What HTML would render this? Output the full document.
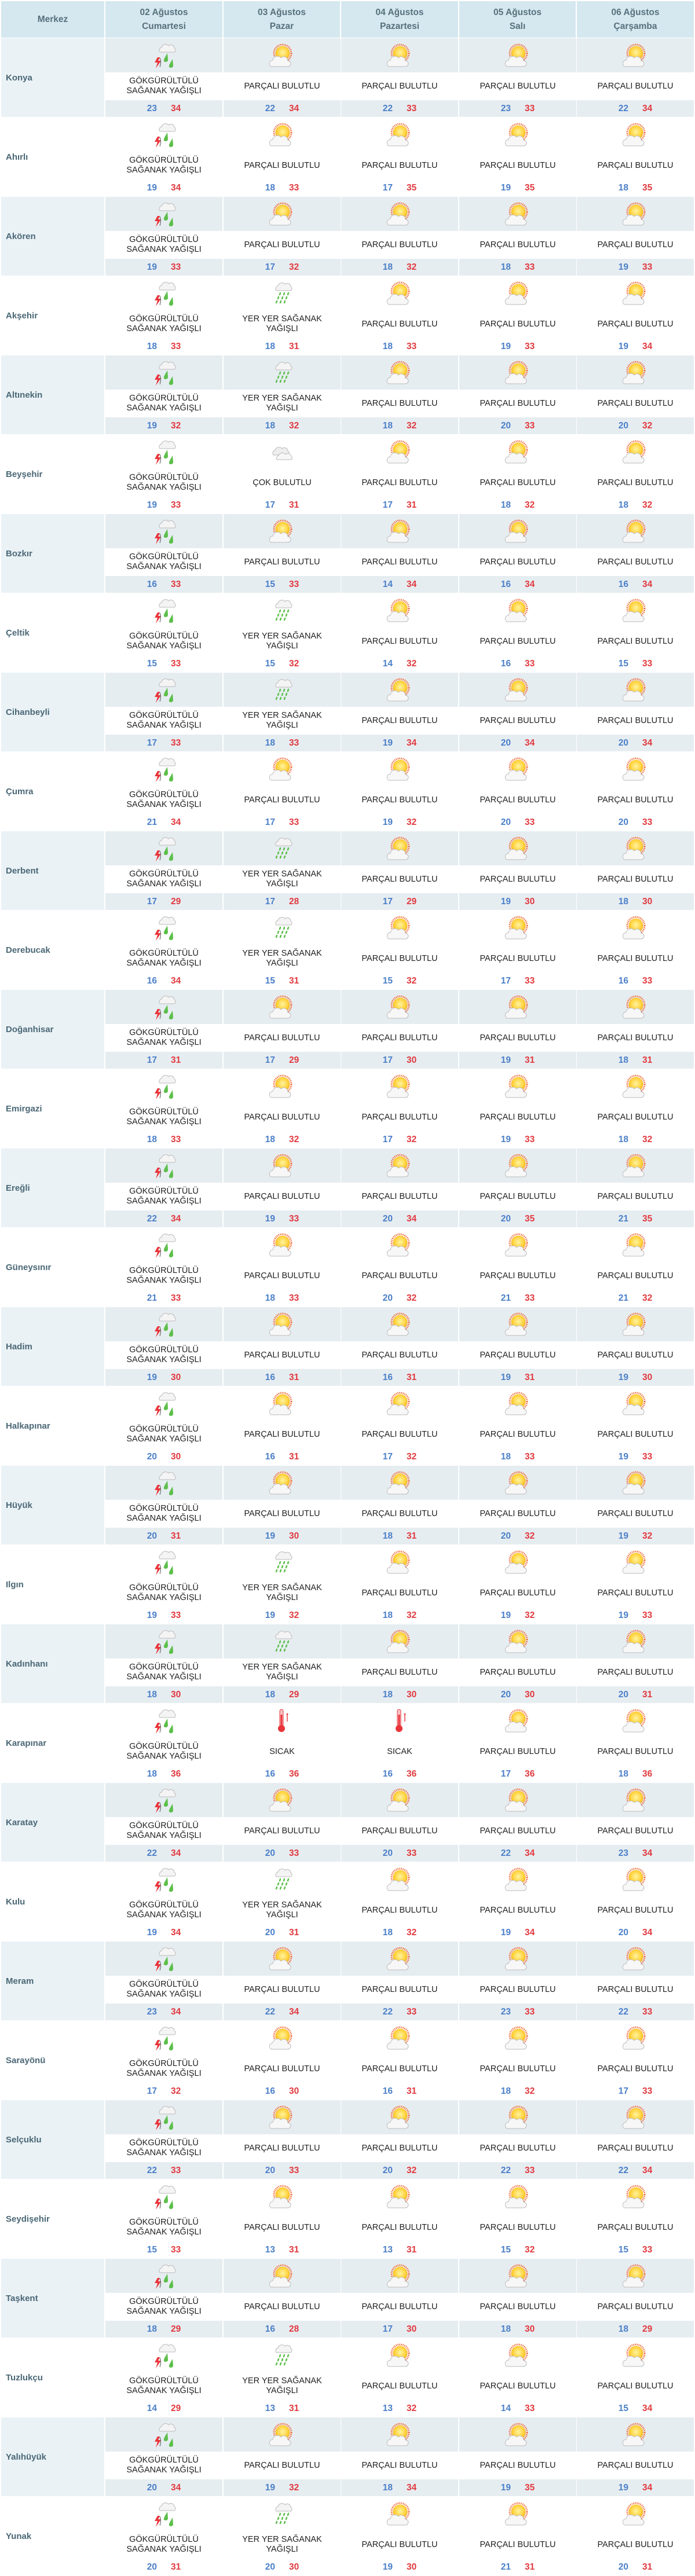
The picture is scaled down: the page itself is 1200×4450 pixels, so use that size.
<!DOCTYPE html>
<html><head><meta charset="utf-8">
<style>
*{margin:0;padding:0;box-sizing:border-box}
body{width:1200px;height:4449px;background:#fff;font-family:"Liberation Sans",sans-serif;overflow:hidden;position:relative}
.h{position:absolute;top:2px;height:63px;background:#d5e8ef;color:#56707c;font-weight:bold;font-size:15.5px;line-height:24px;text-align:center;display:flex;align-items:center;justify-content:center}
.r{position:absolute;left:0;width:1200px;height:137px}
.n{position:absolute;left:2px;top:0;width:178px;height:136px;display:flex;align-items:center;padding-left:8px;color:#4b6876;font-weight:bold;font-size:15px}
.c{position:absolute;top:0;width:202px;height:136px}
.c:nth-child(2){left:182px}.c:nth-child(3){left:386px}.c:nth-child(4){left:589px}.c:nth-child(5){left:793px}.c:nth-child(6){left:996px}
.i{height:59px;display:flex;align-items:center;justify-content:center}
.i svg{width:46px;height:46px}
.d{height:48px;display:flex;align-items:center;justify-content:center;text-align:center;color:#222;font-size:14.5px;line-height:17px}
.t{height:29px;text-align:center;font-weight:bold;font-size:15.5px;line-height:29px}
.t b{color:#4a7fc8;margin-right:24px}.t i{font-style:normal;color:#e0393e}
.g .n{background:#eaf2f6}.g .i,.g .t{background:#e6edf1}
</style></head><body>
<svg width="0" height="0" style="position:absolute">
<defs>
<radialGradient id="sg" cx="50%" cy="45%" r="55%"><stop offset="0" stop-color="#fff3a0"/><stop offset="0.7" stop-color="#ffd23a"/><stop offset="1" stop-color="#f5a623"/></radialGradient>
<symbol id="cl" viewBox="0 0 46 46"><path d="M8 38a6 6 0 0 1 3-11a8 8 0 0 1 14-4a7 7 0 0 1 12 5a5 5 0 0 1 0 10z" fill="#f7f7f7" stroke="#bbb" stroke-width="1"/></symbol>
<symbol id="P" viewBox="0 0 46 46"><circle cx="24" cy="19" r="15" fill="none" stroke="#f26b3a" stroke-width="3" stroke-dasharray="1.5 1.5"/><circle cx="24" cy="19" r="12.5" fill="url(#sg)"/><use href="#cl" x="-4" y="4" width="46" height="46"/></symbol>
<symbol id="G" viewBox="0 0 46 46"><path d="M16 17a5 5 0 0 1 3-8a7 7 0 0 1 12-3a6 6 0 0 1 10 4a4 4 0 0 1 0 7z" fill="#f4f4f4" stroke="#bbb"/><path d="M12 26l-5 9h5l-3 10l9-13h-5l3-6z" fill="#e8343a"/><path d="M16 27q3 7 0 16" stroke="#555" fill="none"/><path d="M29 19q-5 8-6 11q-1 4 3 4q4 0 4-4z" fill="#5cbf4a"/><path d="M38 29q-5 8-6 11q-1 4 3 4q4 0 4-4z" fill="#5cbf4a"/></symbol>
<symbol id="Y" viewBox="0 0 46 46"><path d="M13 18a5 5 0 0 1 3-8a7 7 0 0 1 12-3a6 6 0 0 1 10 4a4 4 0 0 1 0 7z" fill="#f4f4f4" stroke="#bbb"/><g stroke="#5cbf4a" stroke-width="2.5" stroke-linecap="round"><path d="M20 22l-1 3M27 22l-1 3M34 22l-1 3M17 29l-1 3M24 29l-1 3M31 29l-1 3M14 36l-1 3M21 36l-1 3M28 36l-1 3"/></g></symbol>
<symbol id="C" viewBox="0 0 46 46"><path d="M8 28a5 5 0 0 1 3-8a7 7 0 0 1 12-3a6 6 0 0 1 10 4a4 4 0 0 1 0 7z" fill="#eee" stroke="#bbb"/><path d="M14 36a5 5 0 0 1 3-7a7 7 0 0 1 12-2a6 6 0 0 1 10 3a4 4 0 0 1 0 6z" fill="#f7f7f7" stroke="#bbb"/></symbol>
<symbol id="S" viewBox="0 0 46 46"><rect x="19" y="3" width="6" height="30" rx="3" fill="#f6c3c6" stroke="#e8343a"/><rect x="20.5" y="12" width="3" height="22" fill="#e8343a"/><circle cx="22" cy="36" r="6" fill="#e8343a"/><path d="M30 12l2-3l2 3h-1.3v12h-1.4v-12z" fill="#e8343a"/></symbol>
</defs></svg>
<div class="h" style="left:2px;width:178px">Merkez</div>
<div class="h" style="left:182px;width:202px">02 Ağustos<br>Cumartesi</div>
<div class="h" style="left:386px;width:201px">03 Ağustos<br>Pazar</div>
<div class="h" style="left:589px;width:202px">04 Ağustos<br>Pazartesi</div>
<div class="h" style="left:793px;width:201px">05 Ağustos<br>Salı</div>
<div class="h" style="left:996px;width:202px">06 Ağustos<br>Çarşamba</div>

<div class="r g" style="top:66px"><div class="n">Konya</div><div class="c"><div class="i"><svg><use href="#G"/></svg></div><div class="d">GÖKGÜRÜLTÜLÜ<br>SAĞANAK YAĞIŞLI</div><div class="t"><b>23</b><i>34</i></div></div><div class="c"><div class="i"><svg><use href="#P"/></svg></div><div class="d">PARÇALI BULUTLU</div><div class="t"><b>22</b><i>34</i></div></div><div class="c"><div class="i"><svg><use href="#P"/></svg></div><div class="d">PARÇALI BULUTLU</div><div class="t"><b>22</b><i>33</i></div></div><div class="c"><div class="i"><svg><use href="#P"/></svg></div><div class="d">PARÇALI BULUTLU</div><div class="t"><b>23</b><i>33</i></div></div><div class="c"><div class="i"><svg><use href="#P"/></svg></div><div class="d">PARÇALI BULUTLU</div><div class="t"><b>22</b><i>34</i></div></div></div>
<div class="r" style="top:203px"><div class="n">Ahırlı</div><div class="c"><div class="i"><svg><use href="#G"/></svg></div><div class="d">GÖKGÜRÜLTÜLÜ<br>SAĞANAK YAĞIŞLI</div><div class="t"><b>19</b><i>34</i></div></div><div class="c"><div class="i"><svg><use href="#P"/></svg></div><div class="d">PARÇALI BULUTLU</div><div class="t"><b>18</b><i>33</i></div></div><div class="c"><div class="i"><svg><use href="#P"/></svg></div><div class="d">PARÇALI BULUTLU</div><div class="t"><b>17</b><i>35</i></div></div><div class="c"><div class="i"><svg><use href="#P"/></svg></div><div class="d">PARÇALI BULUTLU</div><div class="t"><b>19</b><i>35</i></div></div><div class="c"><div class="i"><svg><use href="#P"/></svg></div><div class="d">PARÇALI BULUTLU</div><div class="t"><b>18</b><i>35</i></div></div></div>
<div class="r g" style="top:340px"><div class="n">Akören</div><div class="c"><div class="i"><svg><use href="#G"/></svg></div><div class="d">GÖKGÜRÜLTÜLÜ<br>SAĞANAK YAĞIŞLI</div><div class="t"><b>19</b><i>33</i></div></div><div class="c"><div class="i"><svg><use href="#P"/></svg></div><div class="d">PARÇALI BULUTLU</div><div class="t"><b>17</b><i>32</i></div></div><div class="c"><div class="i"><svg><use href="#P"/></svg></div><div class="d">PARÇALI BULUTLU</div><div class="t"><b>18</b><i>32</i></div></div><div class="c"><div class="i"><svg><use href="#P"/></svg></div><div class="d">PARÇALI BULUTLU</div><div class="t"><b>18</b><i>33</i></div></div><div class="c"><div class="i"><svg><use href="#P"/></svg></div><div class="d">PARÇALI BULUTLU</div><div class="t"><b>19</b><i>33</i></div></div></div>
<div class="r" style="top:477px"><div class="n">Akşehir</div><div class="c"><div class="i"><svg><use href="#G"/></svg></div><div class="d">GÖKGÜRÜLTÜLÜ<br>SAĞANAK YAĞIŞLI</div><div class="t"><b>18</b><i>33</i></div></div><div class="c"><div class="i"><svg><use href="#Y"/></svg></div><div class="d">YER YER SAĞANAK<br>YAĞIŞLI</div><div class="t"><b>18</b><i>31</i></div></div><div class="c"><div class="i"><svg><use href="#P"/></svg></div><div class="d">PARÇALI BULUTLU</div><div class="t"><b>18</b><i>33</i></div></div><div class="c"><div class="i"><svg><use href="#P"/></svg></div><div class="d">PARÇALI BULUTLU</div><div class="t"><b>19</b><i>33</i></div></div><div class="c"><div class="i"><svg><use href="#P"/></svg></div><div class="d">PARÇALI BULUTLU</div><div class="t"><b>19</b><i>34</i></div></div></div>
<div class="r g" style="top:614px"><div class="n">Altınekin</div><div class="c"><div class="i"><svg><use href="#G"/></svg></div><div class="d">GÖKGÜRÜLTÜLÜ<br>SAĞANAK YAĞIŞLI</div><div class="t"><b>19</b><i>32</i></div></div><div class="c"><div class="i"><svg><use href="#Y"/></svg></div><div class="d">YER YER SAĞANAK<br>YAĞIŞLI</div><div class="t"><b>18</b><i>32</i></div></div><div class="c"><div class="i"><svg><use href="#P"/></svg></div><div class="d">PARÇALI BULUTLU</div><div class="t"><b>18</b><i>32</i></div></div><div class="c"><div class="i"><svg><use href="#P"/></svg></div><div class="d">PARÇALI BULUTLU</div><div class="t"><b>20</b><i>33</i></div></div><div class="c"><div class="i"><svg><use href="#P"/></svg></div><div class="d">PARÇALI BULUTLU</div><div class="t"><b>20</b><i>32</i></div></div></div>
<div class="r" style="top:751px"><div class="n">Beyşehir</div><div class="c"><div class="i"><svg><use href="#G"/></svg></div><div class="d">GÖKGÜRÜLTÜLÜ<br>SAĞANAK YAĞIŞLI</div><div class="t"><b>19</b><i>33</i></div></div><div class="c"><div class="i"><svg><use href="#C"/></svg></div><div class="d">ÇOK BULUTLU</div><div class="t"><b>17</b><i>31</i></div></div><div class="c"><div class="i"><svg><use href="#P"/></svg></div><div class="d">PARÇALI BULUTLU</div><div class="t"><b>17</b><i>31</i></div></div><div class="c"><div class="i"><svg><use href="#P"/></svg></div><div class="d">PARÇALI BULUTLU</div><div class="t"><b>18</b><i>32</i></div></div><div class="c"><div class="i"><svg><use href="#P"/></svg></div><div class="d">PARÇALI BULUTLU</div><div class="t"><b>18</b><i>32</i></div></div></div>
<div class="r g" style="top:888px"><div class="n">Bozkır</div><div class="c"><div class="i"><svg><use href="#G"/></svg></div><div class="d">GÖKGÜRÜLTÜLÜ<br>SAĞANAK YAĞIŞLI</div><div class="t"><b>16</b><i>33</i></div></div><div class="c"><div class="i"><svg><use href="#P"/></svg></div><div class="d">PARÇALI BULUTLU</div><div class="t"><b>15</b><i>33</i></div></div><div class="c"><div class="i"><svg><use href="#P"/></svg></div><div class="d">PARÇALI BULUTLU</div><div class="t"><b>14</b><i>34</i></div></div><div class="c"><div class="i"><svg><use href="#P"/></svg></div><div class="d">PARÇALI BULUTLU</div><div class="t"><b>16</b><i>34</i></div></div><div class="c"><div class="i"><svg><use href="#P"/></svg></div><div class="d">PARÇALI BULUTLU</div><div class="t"><b>16</b><i>34</i></div></div></div>
<div class="r" style="top:1025px"><div class="n">Çeltik</div><div class="c"><div class="i"><svg><use href="#G"/></svg></div><div class="d">GÖKGÜRÜLTÜLÜ<br>SAĞANAK YAĞIŞLI</div><div class="t"><b>15</b><i>33</i></div></div><div class="c"><div class="i"><svg><use href="#Y"/></svg></div><div class="d">YER YER SAĞANAK<br>YAĞIŞLI</div><div class="t"><b>15</b><i>32</i></div></div><div class="c"><div class="i"><svg><use href="#P"/></svg></div><div class="d">PARÇALI BULUTLU</div><div class="t"><b>14</b><i>32</i></div></div><div class="c"><div class="i"><svg><use href="#P"/></svg></div><div class="d">PARÇALI BULUTLU</div><div class="t"><b>16</b><i>33</i></div></div><div class="c"><div class="i"><svg><use href="#P"/></svg></div><div class="d">PARÇALI BULUTLU</div><div class="t"><b>15</b><i>33</i></div></div></div>
<div class="r g" style="top:1162px"><div class="n">Cihanbeyli</div><div class="c"><div class="i"><svg><use href="#G"/></svg></div><div class="d">GÖKGÜRÜLTÜLÜ<br>SAĞANAK YAĞIŞLI</div><div class="t"><b>17</b><i>33</i></div></div><div class="c"><div class="i"><svg><use href="#Y"/></svg></div><div class="d">YER YER SAĞANAK<br>YAĞIŞLI</div><div class="t"><b>18</b><i>33</i></div></div><div class="c"><div class="i"><svg><use href="#P"/></svg></div><div class="d">PARÇALI BULUTLU</div><div class="t"><b>19</b><i>34</i></div></div><div class="c"><div class="i"><svg><use href="#P"/></svg></div><div class="d">PARÇALI BULUTLU</div><div class="t"><b>20</b><i>34</i></div></div><div class="c"><div class="i"><svg><use href="#P"/></svg></div><div class="d">PARÇALI BULUTLU</div><div class="t"><b>20</b><i>34</i></div></div></div>
<div class="r" style="top:1299px"><div class="n">Çumra</div><div class="c"><div class="i"><svg><use href="#G"/></svg></div><div class="d">GÖKGÜRÜLTÜLÜ<br>SAĞANAK YAĞIŞLI</div><div class="t"><b>21</b><i>34</i></div></div><div class="c"><div class="i"><svg><use href="#P"/></svg></div><div class="d">PARÇALI BULUTLU</div><div class="t"><b>17</b><i>33</i></div></div><div class="c"><div class="i"><svg><use href="#P"/></svg></div><div class="d">PARÇALI BULUTLU</div><div class="t"><b>19</b><i>32</i></div></div><div class="c"><div class="i"><svg><use href="#P"/></svg></div><div class="d">PARÇALI BULUTLU</div><div class="t"><b>20</b><i>33</i></div></div><div class="c"><div class="i"><svg><use href="#P"/></svg></div><div class="d">PARÇALI BULUTLU</div><div class="t"><b>20</b><i>33</i></div></div></div>
<div class="r g" style="top:1436px"><div class="n">Derbent</div><div class="c"><div class="i"><svg><use href="#G"/></svg></div><div class="d">GÖKGÜRÜLTÜLÜ<br>SAĞANAK YAĞIŞLI</div><div class="t"><b>17</b><i>29</i></div></div><div class="c"><div class="i"><svg><use href="#Y"/></svg></div><div class="d">YER YER SAĞANAK<br>YAĞIŞLI</div><div class="t"><b>17</b><i>28</i></div></div><div class="c"><div class="i"><svg><use href="#P"/></svg></div><div class="d">PARÇALI BULUTLU</div><div class="t"><b>17</b><i>29</i></div></div><div class="c"><div class="i"><svg><use href="#P"/></svg></div><div class="d">PARÇALI BULUTLU</div><div class="t"><b>19</b><i>30</i></div></div><div class="c"><div class="i"><svg><use href="#P"/></svg></div><div class="d">PARÇALI BULUTLU</div><div class="t"><b>18</b><i>30</i></div></div></div>
<div class="r" style="top:1573px"><div class="n">Derebucak</div><div class="c"><div class="i"><svg><use href="#G"/></svg></div><div class="d">GÖKGÜRÜLTÜLÜ<br>SAĞANAK YAĞIŞLI</div><div class="t"><b>16</b><i>34</i></div></div><div class="c"><div class="i"><svg><use href="#Y"/></svg></div><div class="d">YER YER SAĞANAK<br>YAĞIŞLI</div><div class="t"><b>15</b><i>31</i></div></div><div class="c"><div class="i"><svg><use href="#P"/></svg></div><div class="d">PARÇALI BULUTLU</div><div class="t"><b>15</b><i>32</i></div></div><div class="c"><div class="i"><svg><use href="#P"/></svg></div><div class="d">PARÇALI BULUTLU</div><div class="t"><b>17</b><i>33</i></div></div><div class="c"><div class="i"><svg><use href="#P"/></svg></div><div class="d">PARÇALI BULUTLU</div><div class="t"><b>16</b><i>33</i></div></div></div>
<div class="r g" style="top:1710px"><div class="n">Doğanhisar</div><div class="c"><div class="i"><svg><use href="#G"/></svg></div><div class="d">GÖKGÜRÜLTÜLÜ<br>SAĞANAK YAĞIŞLI</div><div class="t"><b>17</b><i>31</i></div></div><div class="c"><div class="i"><svg><use href="#P"/></svg></div><div class="d">PARÇALI BULUTLU</div><div class="t"><b>17</b><i>29</i></div></div><div class="c"><div class="i"><svg><use href="#P"/></svg></div><div class="d">PARÇALI BULUTLU</div><div class="t"><b>17</b><i>30</i></div></div><div class="c"><div class="i"><svg><use href="#P"/></svg></div><div class="d">PARÇALI BULUTLU</div><div class="t"><b>19</b><i>31</i></div></div><div class="c"><div class="i"><svg><use href="#P"/></svg></div><div class="d">PARÇALI BULUTLU</div><div class="t"><b>18</b><i>31</i></div></div></div>
<div class="r" style="top:1847px"><div class="n">Emirgazi</div><div class="c"><div class="i"><svg><use href="#G"/></svg></div><div class="d">GÖKGÜRÜLTÜLÜ<br>SAĞANAK YAĞIŞLI</div><div class="t"><b>18</b><i>33</i></div></div><div class="c"><div class="i"><svg><use href="#P"/></svg></div><div class="d">PARÇALI BULUTLU</div><div class="t"><b>18</b><i>32</i></div></div><div class="c"><div class="i"><svg><use href="#P"/></svg></div><div class="d">PARÇALI BULUTLU</div><div class="t"><b>17</b><i>32</i></div></div><div class="c"><div class="i"><svg><use href="#P"/></svg></div><div class="d">PARÇALI BULUTLU</div><div class="t"><b>19</b><i>33</i></div></div><div class="c"><div class="i"><svg><use href="#P"/></svg></div><div class="d">PARÇALI BULUTLU</div><div class="t"><b>18</b><i>32</i></div></div></div>
<div class="r g" style="top:1984px"><div class="n">Ereğli</div><div class="c"><div class="i"><svg><use href="#G"/></svg></div><div class="d">GÖKGÜRÜLTÜLÜ<br>SAĞANAK YAĞIŞLI</div><div class="t"><b>22</b><i>34</i></div></div><div class="c"><div class="i"><svg><use href="#P"/></svg></div><div class="d">PARÇALI BULUTLU</div><div class="t"><b>19</b><i>33</i></div></div><div class="c"><div class="i"><svg><use href="#P"/></svg></div><div class="d">PARÇALI BULUTLU</div><div class="t"><b>20</b><i>34</i></div></div><div class="c"><div class="i"><svg><use href="#P"/></svg></div><div class="d">PARÇALI BULUTLU</div><div class="t"><b>20</b><i>35</i></div></div><div class="c"><div class="i"><svg><use href="#P"/></svg></div><div class="d">PARÇALI BULUTLU</div><div class="t"><b>21</b><i>35</i></div></div></div>
<div class="r" style="top:2121px"><div class="n">Güneysınır</div><div class="c"><div class="i"><svg><use href="#G"/></svg></div><div class="d">GÖKGÜRÜLTÜLÜ<br>SAĞANAK YAĞIŞLI</div><div class="t"><b>21</b><i>33</i></div></div><div class="c"><div class="i"><svg><use href="#P"/></svg></div><div class="d">PARÇALI BULUTLU</div><div class="t"><b>18</b><i>33</i></div></div><div class="c"><div class="i"><svg><use href="#P"/></svg></div><div class="d">PARÇALI BULUTLU</div><div class="t"><b>20</b><i>32</i></div></div><div class="c"><div class="i"><svg><use href="#P"/></svg></div><div class="d">PARÇALI BULUTLU</div><div class="t"><b>21</b><i>33</i></div></div><div class="c"><div class="i"><svg><use href="#P"/></svg></div><div class="d">PARÇALI BULUTLU</div><div class="t"><b>21</b><i>32</i></div></div></div>
<div class="r g" style="top:2258px"><div class="n">Hadim</div><div class="c"><div class="i"><svg><use href="#G"/></svg></div><div class="d">GÖKGÜRÜLTÜLÜ<br>SAĞANAK YAĞIŞLI</div><div class="t"><b>19</b><i>30</i></div></div><div class="c"><div class="i"><svg><use href="#P"/></svg></div><div class="d">PARÇALI BULUTLU</div><div class="t"><b>16</b><i>31</i></div></div><div class="c"><div class="i"><svg><use href="#P"/></svg></div><div class="d">PARÇALI BULUTLU</div><div class="t"><b>16</b><i>31</i></div></div><div class="c"><div class="i"><svg><use href="#P"/></svg></div><div class="d">PARÇALI BULUTLU</div><div class="t"><b>19</b><i>31</i></div></div><div class="c"><div class="i"><svg><use href="#P"/></svg></div><div class="d">PARÇALI BULUTLU</div><div class="t"><b>19</b><i>30</i></div></div></div>
<div class="r" style="top:2395px"><div class="n">Halkapınar</div><div class="c"><div class="i"><svg><use href="#G"/></svg></div><div class="d">GÖKGÜRÜLTÜLÜ<br>SAĞANAK YAĞIŞLI</div><div class="t"><b>20</b><i>30</i></div></div><div class="c"><div class="i"><svg><use href="#P"/></svg></div><div class="d">PARÇALI BULUTLU</div><div class="t"><b>16</b><i>31</i></div></div><div class="c"><div class="i"><svg><use href="#P"/></svg></div><div class="d">PARÇALI BULUTLU</div><div class="t"><b>17</b><i>32</i></div></div><div class="c"><div class="i"><svg><use href="#P"/></svg></div><div class="d">PARÇALI BULUTLU</div><div class="t"><b>18</b><i>33</i></div></div><div class="c"><div class="i"><svg><use href="#P"/></svg></div><div class="d">PARÇALI BULUTLU</div><div class="t"><b>19</b><i>33</i></div></div></div>
<div class="r g" style="top:2532px"><div class="n">Hüyük</div><div class="c"><div class="i"><svg><use href="#G"/></svg></div><div class="d">GÖKGÜRÜLTÜLÜ<br>SAĞANAK YAĞIŞLI</div><div class="t"><b>20</b><i>31</i></div></div><div class="c"><div class="i"><svg><use href="#P"/></svg></div><div class="d">PARÇALI BULUTLU</div><div class="t"><b>19</b><i>30</i></div></div><div class="c"><div class="i"><svg><use href="#P"/></svg></div><div class="d">PARÇALI BULUTLU</div><div class="t"><b>18</b><i>31</i></div></div><div class="c"><div class="i"><svg><use href="#P"/></svg></div><div class="d">PARÇALI BULUTLU</div><div class="t"><b>20</b><i>32</i></div></div><div class="c"><div class="i"><svg><use href="#P"/></svg></div><div class="d">PARÇALI BULUTLU</div><div class="t"><b>19</b><i>32</i></div></div></div>
<div class="r" style="top:2669px"><div class="n">Ilgın</div><div class="c"><div class="i"><svg><use href="#G"/></svg></div><div class="d">GÖKGÜRÜLTÜLÜ<br>SAĞANAK YAĞIŞLI</div><div class="t"><b>19</b><i>33</i></div></div><div class="c"><div class="i"><svg><use href="#Y"/></svg></div><div class="d">YER YER SAĞANAK<br>YAĞIŞLI</div><div class="t"><b>19</b><i>32</i></div></div><div class="c"><div class="i"><svg><use href="#P"/></svg></div><div class="d">PARÇALI BULUTLU</div><div class="t"><b>18</b><i>32</i></div></div><div class="c"><div class="i"><svg><use href="#P"/></svg></div><div class="d">PARÇALI BULUTLU</div><div class="t"><b>19</b><i>32</i></div></div><div class="c"><div class="i"><svg><use href="#P"/></svg></div><div class="d">PARÇALI BULUTLU</div><div class="t"><b>19</b><i>33</i></div></div></div>
<div class="r g" style="top:2806px"><div class="n">Kadınhanı</div><div class="c"><div class="i"><svg><use href="#G"/></svg></div><div class="d">GÖKGÜRÜLTÜLÜ<br>SAĞANAK YAĞIŞLI</div><div class="t"><b>18</b><i>30</i></div></div><div class="c"><div class="i"><svg><use href="#Y"/></svg></div><div class="d">YER YER SAĞANAK<br>YAĞIŞLI</div><div class="t"><b>18</b><i>29</i></div></div><div class="c"><div class="i"><svg><use href="#P"/></svg></div><div class="d">PARÇALI BULUTLU</div><div class="t"><b>18</b><i>30</i></div></div><div class="c"><div class="i"><svg><use href="#P"/></svg></div><div class="d">PARÇALI BULUTLU</div><div class="t"><b>20</b><i>30</i></div></div><div class="c"><div class="i"><svg><use href="#P"/></svg></div><div class="d">PARÇALI BULUTLU</div><div class="t"><b>20</b><i>31</i></div></div></div>
<div class="r" style="top:2943px"><div class="n">Karapınar</div><div class="c"><div class="i"><svg><use href="#G"/></svg></div><div class="d">GÖKGÜRÜLTÜLÜ<br>SAĞANAK YAĞIŞLI</div><div class="t"><b>18</b><i>36</i></div></div><div class="c"><div class="i"><svg><use href="#S"/></svg></div><div class="d">SICAK</div><div class="t"><b>16</b><i>36</i></div></div><div class="c"><div class="i"><svg><use href="#S"/></svg></div><div class="d">SICAK</div><div class="t"><b>16</b><i>36</i></div></div><div class="c"><div class="i"><svg><use href="#P"/></svg></div><div class="d">PARÇALI BULUTLU</div><div class="t"><b>17</b><i>36</i></div></div><div class="c"><div class="i"><svg><use href="#P"/></svg></div><div class="d">PARÇALI BULUTLU</div><div class="t"><b>18</b><i>36</i></div></div></div>
<div class="r g" style="top:3080px"><div class="n">Karatay</div><div class="c"><div class="i"><svg><use href="#G"/></svg></div><div class="d">GÖKGÜRÜLTÜLÜ<br>SAĞANAK YAĞIŞLI</div><div class="t"><b>22</b><i>34</i></div></div><div class="c"><div class="i"><svg><use href="#P"/></svg></div><div class="d">PARÇALI BULUTLU</div><div class="t"><b>20</b><i>33</i></div></div><div class="c"><div class="i"><svg><use href="#P"/></svg></div><div class="d">PARÇALI BULUTLU</div><div class="t"><b>20</b><i>33</i></div></div><div class="c"><div class="i"><svg><use href="#P"/></svg></div><div class="d">PARÇALI BULUTLU</div><div class="t"><b>22</b><i>34</i></div></div><div class="c"><div class="i"><svg><use href="#P"/></svg></div><div class="d">PARÇALI BULUTLU</div><div class="t"><b>23</b><i>34</i></div></div></div>
<div class="r" style="top:3217px"><div class="n">Kulu</div><div class="c"><div class="i"><svg><use href="#G"/></svg></div><div class="d">GÖKGÜRÜLTÜLÜ<br>SAĞANAK YAĞIŞLI</div><div class="t"><b>19</b><i>34</i></div></div><div class="c"><div class="i"><svg><use href="#Y"/></svg></div><div class="d">YER YER SAĞANAK<br>YAĞIŞLI</div><div class="t"><b>20</b><i>31</i></div></div><div class="c"><div class="i"><svg><use href="#P"/></svg></div><div class="d">PARÇALI BULUTLU</div><div class="t"><b>18</b><i>32</i></div></div><div class="c"><div class="i"><svg><use href="#P"/></svg></div><div class="d">PARÇALI BULUTLU</div><div class="t"><b>19</b><i>34</i></div></div><div class="c"><div class="i"><svg><use href="#P"/></svg></div><div class="d">PARÇALI BULUTLU</div><div class="t"><b>20</b><i>34</i></div></div></div>
<div class="r g" style="top:3354px"><div class="n">Meram</div><div class="c"><div class="i"><svg><use href="#G"/></svg></div><div class="d">GÖKGÜRÜLTÜLÜ<br>SAĞANAK YAĞIŞLI</div><div class="t"><b>23</b><i>34</i></div></div><div class="c"><div class="i"><svg><use href="#P"/></svg></div><div class="d">PARÇALI BULUTLU</div><div class="t"><b>22</b><i>34</i></div></div><div class="c"><div class="i"><svg><use href="#P"/></svg></div><div class="d">PARÇALI BULUTLU</div><div class="t"><b>22</b><i>33</i></div></div><div class="c"><div class="i"><svg><use href="#P"/></svg></div><div class="d">PARÇALI BULUTLU</div><div class="t"><b>23</b><i>33</i></div></div><div class="c"><div class="i"><svg><use href="#P"/></svg></div><div class="d">PARÇALI BULUTLU</div><div class="t"><b>22</b><i>33</i></div></div></div>
<div class="r" style="top:3491px"><div class="n">Sarayönü</div><div class="c"><div class="i"><svg><use href="#G"/></svg></div><div class="d">GÖKGÜRÜLTÜLÜ<br>SAĞANAK YAĞIŞLI</div><div class="t"><b>17</b><i>32</i></div></div><div class="c"><div class="i"><svg><use href="#P"/></svg></div><div class="d">PARÇALI BULUTLU</div><div class="t"><b>16</b><i>30</i></div></div><div class="c"><div class="i"><svg><use href="#P"/></svg></div><div class="d">PARÇALI BULUTLU</div><div class="t"><b>16</b><i>31</i></div></div><div class="c"><div class="i"><svg><use href="#P"/></svg></div><div class="d">PARÇALI BULUTLU</div><div class="t"><b>18</b><i>32</i></div></div><div class="c"><div class="i"><svg><use href="#P"/></svg></div><div class="d">PARÇALI BULUTLU</div><div class="t"><b>17</b><i>33</i></div></div></div>
<div class="r g" style="top:3628px"><div class="n">Selçuklu</div><div class="c"><div class="i"><svg><use href="#G"/></svg></div><div class="d">GÖKGÜRÜLTÜLÜ<br>SAĞANAK YAĞIŞLI</div><div class="t"><b>22</b><i>33</i></div></div><div class="c"><div class="i"><svg><use href="#P"/></svg></div><div class="d">PARÇALI BULUTLU</div><div class="t"><b>20</b><i>33</i></div></div><div class="c"><div class="i"><svg><use href="#P"/></svg></div><div class="d">PARÇALI BULUTLU</div><div class="t"><b>20</b><i>32</i></div></div><div class="c"><div class="i"><svg><use href="#P"/></svg></div><div class="d">PARÇALI BULUTLU</div><div class="t"><b>22</b><i>33</i></div></div><div class="c"><div class="i"><svg><use href="#P"/></svg></div><div class="d">PARÇALI BULUTLU</div><div class="t"><b>22</b><i>34</i></div></div></div>
<div class="r" style="top:3765px"><div class="n">Seydişehir</div><div class="c"><div class="i"><svg><use href="#G"/></svg></div><div class="d">GÖKGÜRÜLTÜLÜ<br>SAĞANAK YAĞIŞLI</div><div class="t"><b>15</b><i>33</i></div></div><div class="c"><div class="i"><svg><use href="#P"/></svg></div><div class="d">PARÇALI BULUTLU</div><div class="t"><b>13</b><i>31</i></div></div><div class="c"><div class="i"><svg><use href="#P"/></svg></div><div class="d">PARÇALI BULUTLU</div><div class="t"><b>13</b><i>31</i></div></div><div class="c"><div class="i"><svg><use href="#P"/></svg></div><div class="d">PARÇALI BULUTLU</div><div class="t"><b>15</b><i>32</i></div></div><div class="c"><div class="i"><svg><use href="#P"/></svg></div><div class="d">PARÇALI BULUTLU</div><div class="t"><b>15</b><i>33</i></div></div></div>
<div class="r g" style="top:3902px"><div class="n">Taşkent</div><div class="c"><div class="i"><svg><use href="#G"/></svg></div><div class="d">GÖKGÜRÜLTÜLÜ<br>SAĞANAK YAĞIŞLI</div><div class="t"><b>18</b><i>29</i></div></div><div class="c"><div class="i"><svg><use href="#P"/></svg></div><div class="d">PARÇALI BULUTLU</div><div class="t"><b>16</b><i>28</i></div></div><div class="c"><div class="i"><svg><use href="#P"/></svg></div><div class="d">PARÇALI BULUTLU</div><div class="t"><b>17</b><i>30</i></div></div><div class="c"><div class="i"><svg><use href="#P"/></svg></div><div class="d">PARÇALI BULUTLU</div><div class="t"><b>18</b><i>30</i></div></div><div class="c"><div class="i"><svg><use href="#P"/></svg></div><div class="d">PARÇALI BULUTLU</div><div class="t"><b>18</b><i>29</i></div></div></div>
<div class="r" style="top:4039px"><div class="n">Tuzlukçu</div><div class="c"><div class="i"><svg><use href="#G"/></svg></div><div class="d">GÖKGÜRÜLTÜLÜ<br>SAĞANAK YAĞIŞLI</div><div class="t"><b>14</b><i>29</i></div></div><div class="c"><div class="i"><svg><use href="#Y"/></svg></div><div class="d">YER YER SAĞANAK<br>YAĞIŞLI</div><div class="t"><b>13</b><i>31</i></div></div><div class="c"><div class="i"><svg><use href="#P"/></svg></div><div class="d">PARÇALI BULUTLU</div><div class="t"><b>13</b><i>32</i></div></div><div class="c"><div class="i"><svg><use href="#P"/></svg></div><div class="d">PARÇALI BULUTLU</div><div class="t"><b>14</b><i>33</i></div></div><div class="c"><div class="i"><svg><use href="#P"/></svg></div><div class="d">PARÇALI BULUTLU</div><div class="t"><b>15</b><i>34</i></div></div></div>
<div class="r g" style="top:4176px"><div class="n">Yalıhüyük</div><div class="c"><div class="i"><svg><use href="#G"/></svg></div><div class="d">GÖKGÜRÜLTÜLÜ<br>SAĞANAK YAĞIŞLI</div><div class="t"><b>20</b><i>34</i></div></div><div class="c"><div class="i"><svg><use href="#P"/></svg></div><div class="d">PARÇALI BULUTLU</div><div class="t"><b>19</b><i>32</i></div></div><div class="c"><div class="i"><svg><use href="#P"/></svg></div><div class="d">PARÇALI BULUTLU</div><div class="t"><b>18</b><i>34</i></div></div><div class="c"><div class="i"><svg><use href="#P"/></svg></div><div class="d">PARÇALI BULUTLU</div><div class="t"><b>19</b><i>35</i></div></div><div class="c"><div class="i"><svg><use href="#P"/></svg></div><div class="d">PARÇALI BULUTLU</div><div class="t"><b>19</b><i>34</i></div></div></div>
<div class="r" style="top:4313px"><div class="n">Yunak</div><div class="c"><div class="i"><svg><use href="#G"/></svg></div><div class="d">GÖKGÜRÜLTÜLÜ<br>SAĞANAK YAĞIŞLI</div><div class="t"><b>20</b><i>31</i></div></div><div class="c"><div class="i"><svg><use href="#Y"/></svg></div><div class="d">YER YER SAĞANAK<br>YAĞIŞLI</div><div class="t"><b>20</b><i>30</i></div></div><div class="c"><div class="i"><svg><use href="#P"/></svg></div><div class="d">PARÇALI BULUTLU</div><div class="t"><b>19</b><i>30</i></div></div><div class="c"><div class="i"><svg><use href="#P"/></svg></div><div class="d">PARÇALI BULUTLU</div><div class="t"><b>21</b><i>31</i></div></div><div class="c"><div class="i"><svg><use href="#P"/></svg></div><div class="d">PARÇALI BULUTLU</div><div class="t"><b>20</b><i>31</i></div></div></div>
</body></html>
